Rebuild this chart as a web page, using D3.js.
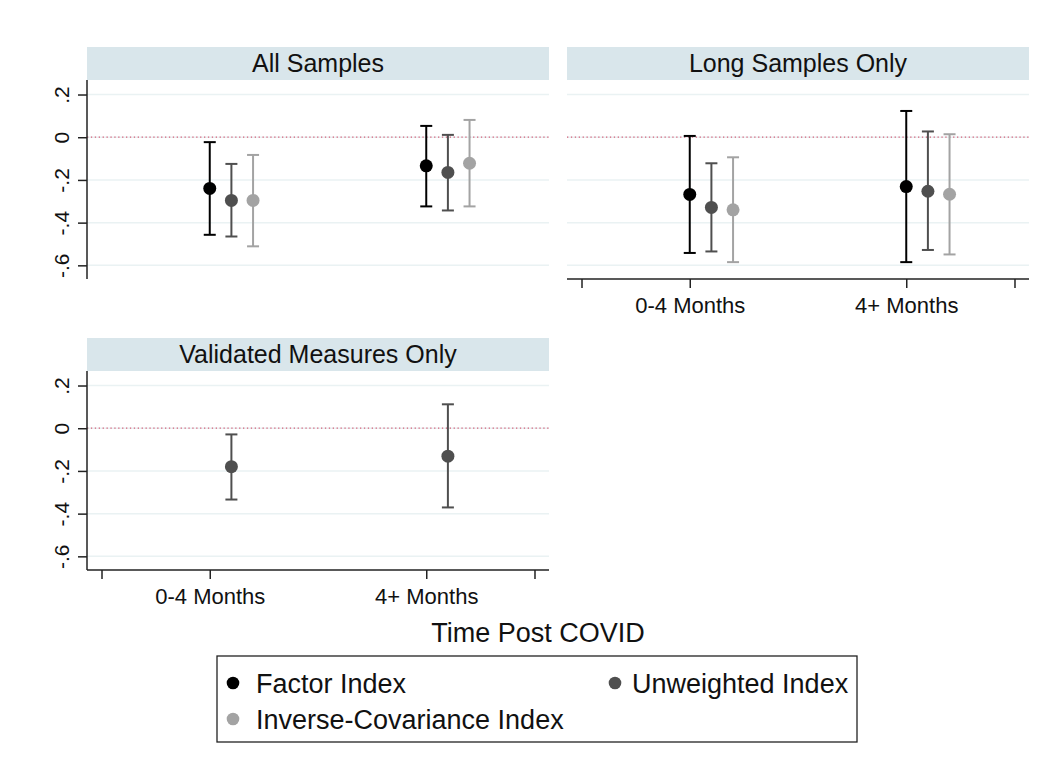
<!DOCTYPE html>
<html><head><meta charset="utf-8">
<script src="https://cdn.jsdelivr.net/npm/d3@7"></script>
<style>
html,body{margin:0;padding:0;background:#fff;}
svg{display:block;font-family:"Liberation Sans",Arial,sans-serif;}
</style></head>
<body><svg id="chart" width="1049" height="775"></svg>
<script>
// ---------- data ----------
const categories = ["0-4 Months", "4+ Months"];
const seriesNames = ["Factor Index", "Unweighted Index", "Inverse-Covariance Index"];
const panelTitles = ["All Samples", "Long Samples Only", "Validated Measures Only"];
const yTickValues = [0.2, 0, -0.2, -0.4, -0.6];
const yTickLabels = [".2", "0", "-.2", "-.4", "-.6"];
const xTickValues = [0.5, 1, 2, 2.5];

// All Samples
const allFactorEst = [-0.240, -0.134], allFactorLo = [-0.457, -0.324], allFactorHi = [-0.023, 0.053];
const allUnwEst = [-0.296, -0.165], allUnwLo = [-0.465, -0.343], allUnwHi = [-0.125, 0.011];
const allInvEst = [-0.296, -0.122], allInvLo = [-0.511, -0.324], allInvHi = [-0.083, 0.081];
// Long Samples Only
const longFactorEst = [-0.268, -0.231], longFactorLo = [-0.542, -0.585], longFactorHi = [0.006, 0.123];
const longUnwEst = [-0.329, -0.253], longUnwLo = [-0.535, -0.528], longUnwHi = [-0.122, 0.027];
const longInvEst = [-0.340, -0.267], longInvLo = [-0.585, -0.549], longInvHi = [-0.094, 0.014];
// Validated Measures Only
const valUnwEst = [-0.180, -0.131], valUnwLo = [-0.334, -0.371], valUnwHi = [-0.029, 0.112];

// ---------- styles / layout ----------
const seriesColors = ["#000000", "#4f4f4f", "#a3a3a3"];
const seriesOffsets = [0, 0.1, 0.2];

const panels = [
  {title: panelTitles[0], left: 87, top: 80, yAxis: true, xAxis: false,
   series: [
     {s: 0, est: allFactorEst, lo: allFactorLo, hi: allFactorHi},
     {s: 1, est: allUnwEst, lo: allUnwLo, hi: allUnwHi},
     {s: 2, est: allInvEst, lo: allInvLo, hi: allInvHi}]},
  {title: panelTitles[1], left: 567, top: 80, yAxis: false, xAxis: true,
   series: [
     {s: 0, est: longFactorEst, lo: longFactorLo, hi: longFactorHi},
     {s: 1, est: longUnwEst, lo: longUnwLo, hi: longUnwHi},
     {s: 2, est: longInvEst, lo: longInvLo, hi: longInvHi}]},
  {title: panelTitles[2], left: 87, top: 371, yAxis: true, xAxis: true,
   series: [
     {s: 1, est: valUnwEst, lo: valUnwLo, hi: valUnwHi}]}
];
const PW = 462, PH = 199, stripH = 33;

const svg = d3.select("#chart");
svg.append("rect").attr("width", 1049).attr("height", 775).attr("fill", "#fff");

const x = d3.scaleLinear().domain([0.433, 2.567]).range([0, PW]);
const y = d3.scaleLinear().domain([-0.664, 0.268]).range([PH, 0]);

panels.forEach(p => {
  const g = svg.append("g").attr("transform", `translate(${p.left},${p.top})`);
  // strip
  g.append("rect").attr("x", 0).attr("y", -stripH).attr("width", PW).attr("height", stripH)
    .attr("fill", "#d9e6eb");
  g.append("text").attr("x", PW / 2).attr("y", -8).attr("text-anchor", "middle")
    .attr("font-size", 25).attr("fill", "#111").text(p.title);
  // gridlines
  g.selectAll(".grid").data(yTickValues).enter().append("line")
    .attr("x1", 0).attr("x2", PW).attr("y1", d => y(d)).attr("y2", d => y(d))
    .attr("stroke", "#eaf2f3").attr("stroke-width", 1.5);
  // zero reference line
  g.append("line").attr("x1", 0).attr("x2", PW).attr("y1", y(0)).attr("y2", y(0))
    .attr("stroke", "#d4607a").attr("stroke-width", 1.3).attr("stroke-dasharray", "1.3,2.6");
  // y axis
  if (p.yAxis) {
    const ya = g.append("g").call(d3.axisLeft(y).tickValues(yTickValues).tickSize(9).tickFormat(""));
    ya.select(".domain").attr("d", `M0,0V${PH}`).attr("stroke", "#222").attr("stroke-width", 1.5);
    ya.selectAll(".tick line").attr("stroke", "#222").attr("stroke-width", 1.5);
    ya.selectAll(".tick").append("text")
      .attr("transform", "translate(-18.5,0) rotate(-90)")
      .attr("text-anchor", "middle").attr("fill", "#111").attr("font-size", 21)
      .text((d, i) => yTickLabels[i]);
  }
  // x axis
  if (p.xAxis) {
    const xa = g.append("g").attr("transform", `translate(0,${PH})`)
      .call(d3.axisBottom(x).tickValues(xTickValues).tickSize(9).tickFormat(""));
    xa.select(".domain").attr("d", `M0,0H${PW}`).attr("stroke", "#222").attr("stroke-width", 1.5);
    xa.selectAll(".tick line").attr("stroke", "#222").attr("stroke-width", 1.5);
    xa.selectAll(".tick").filter(d => d === 1 || d === 2).append("text")
      .attr("y", 34).attr("text-anchor", "middle").attr("fill", "#111").attr("font-size", 22)
      .text(d => categories[d - 1]);
  }
  // error bars + points
  p.series.forEach(sr => {
    const col = seriesColors[sr.s];
    const rows = categories.map((c, i) => ({xv: i + 1 + seriesOffsets[sr.s], est: sr.est[i], lo: sr.lo[i], hi: sr.hi[i]}));
    const eg = g.append("g");
    eg.selectAll(".v").data(rows).enter().append("line")
      .attr("x1", d => x(d.xv)).attr("x2", d => x(d.xv)).attr("y1", d => y(d.lo)).attr("y2", d => y(d.hi))
      .attr("stroke", col).attr("stroke-width", 2);
    ["lo", "hi"].forEach(k => {
      eg.selectAll(".c" + k).data(rows).enter().append("line")
        .attr("x1", d => x(d.xv) - 6).attr("x2", d => x(d.xv) + 6)
        .attr("y1", d => y(d[k])).attr("y2", d => y(d[k]))
        .attr("stroke", col).attr("stroke-width", 2);
    });
    eg.selectAll("circle").data(rows).enter().append("circle")
      .attr("cx", d => x(d.xv)).attr("cy", d => y(d.est)).attr("r", 6.5).attr("fill", col);
  });
});

// x axis title
svg.append("text").attr("x", 538).attr("y", 642).attr("text-anchor", "middle")
  .attr("font-size", 27).attr("fill", "#111").text("Time Post COVID");

// legend
const lg = svg.append("g");
lg.append("rect").attr("x", 217).attr("y", 656).attr("width", 640).attr("height", 86)
  .attr("fill", "#fff").attr("stroke", "#222").attr("stroke-width", 1.3);
const legendPos = [{x: 233, y: 683}, {x: 615, y: 683}, {x: 233, y: 719}];
const li = lg.selectAll(".li").data(seriesNames).enter().append("g")
  .attr("transform", (d, i) => `translate(${legendPos[i].x},${legendPos[i].y})`);
li.append("circle").attr("r", 6.3).attr("fill", (d, i) => seriesColors[i]);
li.append("text").attr("x", (d, i) => i === 1 ? 17 : 23).attr("y", 9.5)
  .attr("font-size", 27).attr("fill", "#111").text(d => d);
</script></body></html>
